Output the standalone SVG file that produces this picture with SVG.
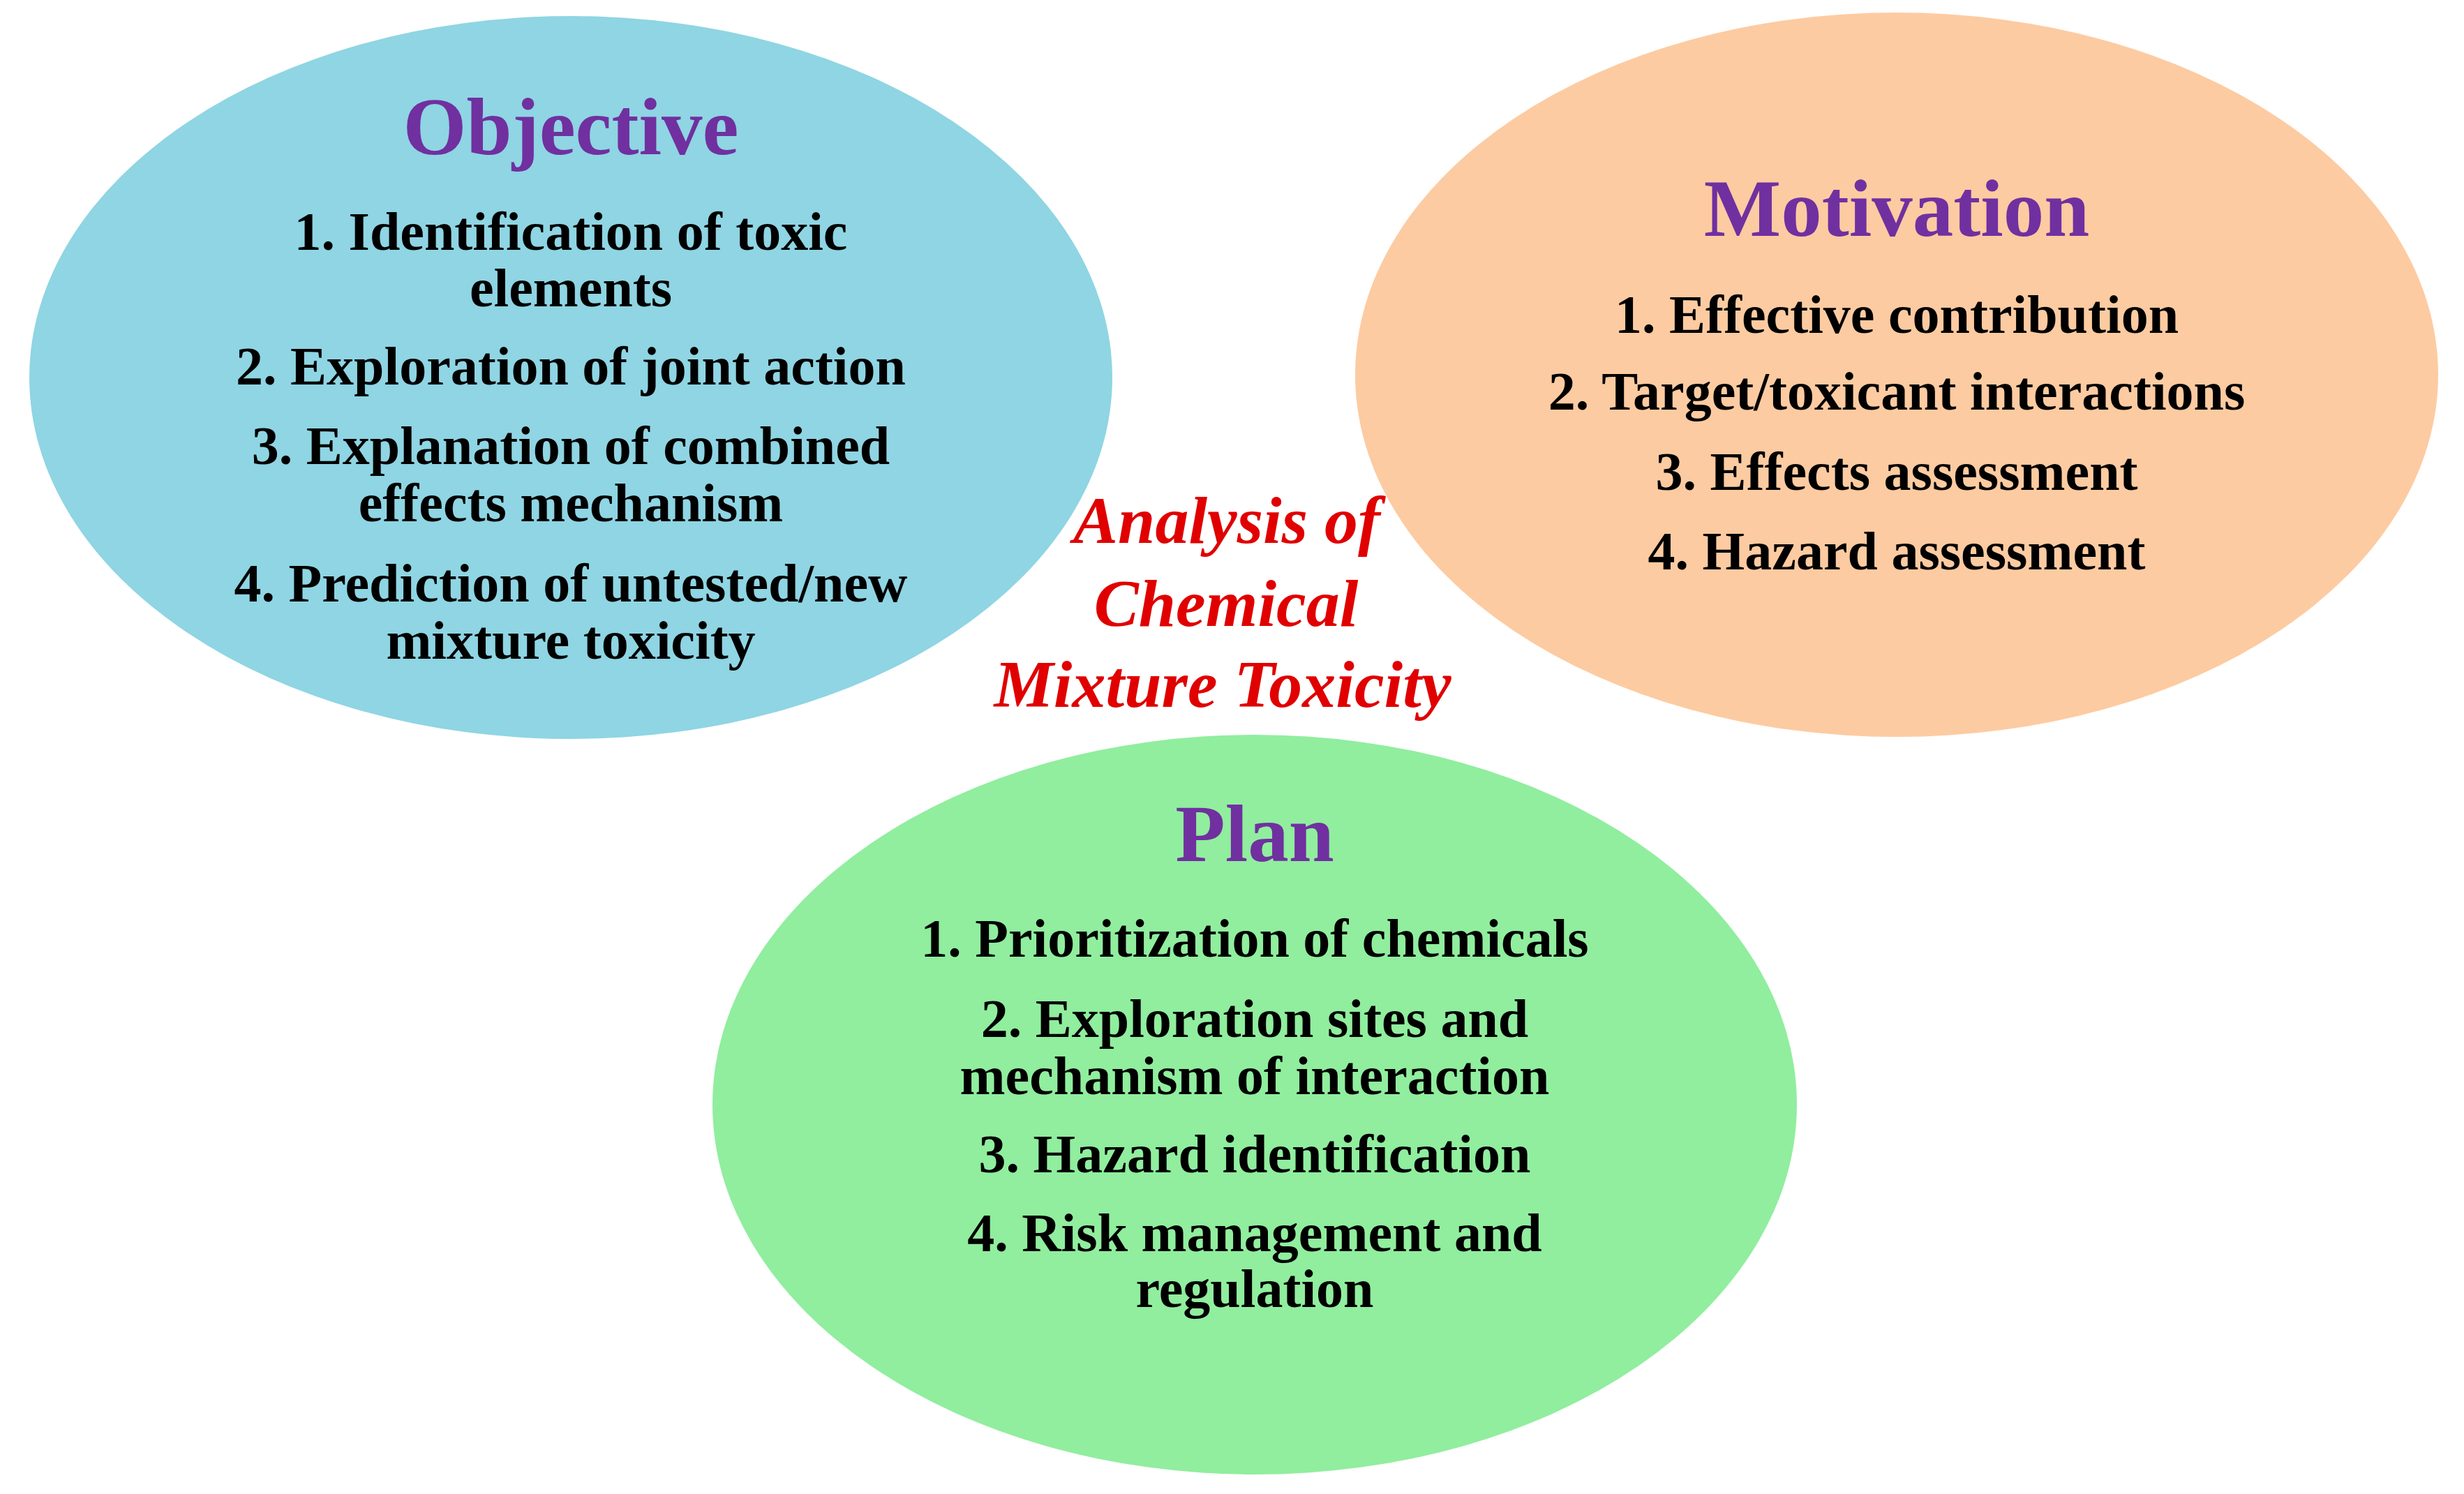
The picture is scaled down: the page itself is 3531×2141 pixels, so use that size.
<svg xmlns="http://www.w3.org/2000/svg" width="3531" height="2141" viewBox="0 0 3531 2141">
<style>
.title{font-family:"Liberation Serif","Times New Roman",serif;font-weight:bold;font-size:117px;fill:#7030A0;text-anchor:middle}
.item{font-family:"Liberation Serif","Times New Roman",serif;font-weight:bold;font-size:78px;fill:#000;text-anchor:middle}
.center{font-family:"Liberation Serif","Times New Roman",serif;font-weight:bold;font-style:italic;font-size:96px;fill:#E00000;text-anchor:middle}
</style>
<rect width="3531" height="2141" fill="#fff"/>
<g id="objective">
<ellipse cx="818" cy="541" rx="776" ry="518" fill="#8FD5E3"/>
<text class="title" x="818" y="221">Objective</text>
<text class="item" x="818" y="358">1. Identification of toxic</text>
<text class="item" x="818" y="439">elements</text>
<text class="item" x="818" y="551">2. Exploration of joint action</text>
<text class="item" x="818" y="665">3. Explanation of combined</text>
<text class="item" x="818" y="747">effects mechanism</text>
<text class="item" x="818" y="862">4. Prediction of untested/new</text>
<text class="item" x="818" y="944">mixture toxicity</text>
</g>
<g id="motivation">
<ellipse cx="2718" cy="537" rx="776" ry="519" fill="#FDCBA1"/>
<text class="title" x="2718" y="338">Motivation</text>
<text class="item" x="2718" y="477">1. Effective contribution</text>
<text class="item" x="2718" y="587">2. Target/toxicant interactions</text>
<text class="item" x="2718" y="702">3. Effects assessment</text>
<text class="item" x="2718" y="816">4. Hazard assessment</text>
</g>
<g id="plan">
<ellipse cx="1798" cy="1583" rx="777" ry="530" fill="#90EE9E"/>
<text class="title" x="1798" y="1234">Plan</text>
<text class="item" x="1798" y="1371">1. Prioritization of chemicals</text>
<text class="item" x="1798" y="1486">2. Exploration sites and</text>
<text class="item" x="1798" y="1568">mechanism of interaction</text>
<text class="item" x="1798" y="1680">3. Hazard identification</text>
<text class="item" x="1798" y="1793">4. Risk management and</text>
<text class="item" x="1798" y="1873">regulation</text>
</g>
<g id="center-label">
<text class="center" x="1758" y="778">Analysis of</text>
<text class="center" x="1757" y="897">Chemical</text>
<text class="center" x="1752" y="1013">Mixture Toxicity</text>
</g>
<g id="connectors"></g>
</svg>
